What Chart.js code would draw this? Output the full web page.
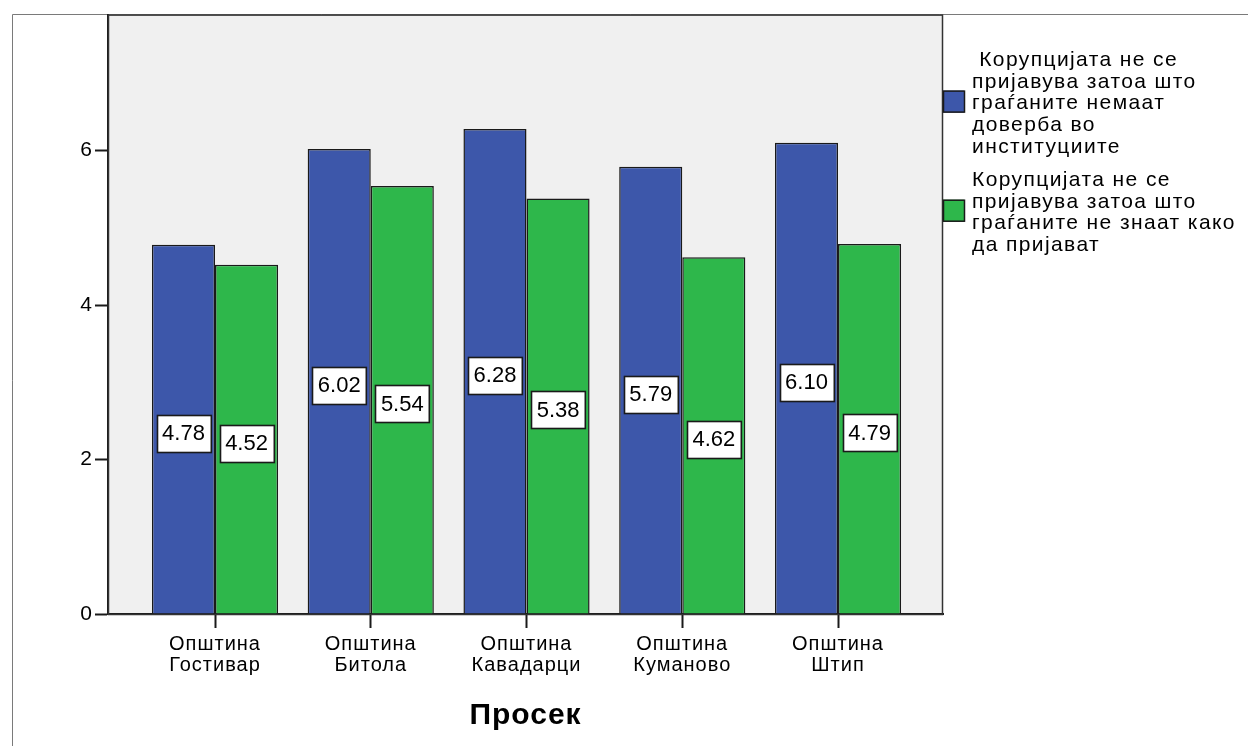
<!DOCTYPE html>
<html>
<head>
<meta charset="utf-8">
<script src="https://cdn.jsdelivr.net/npm/chart.js@4/dist/chart.umd.min.js"></script>
<style>
    html, body { margin: 0; padding: 0; background: #ffffff; }
    #wrap { width: 1248px; height: 746px; position: relative; }
</style>
</head>
<body>
<div id="wrap"><canvas id="chart"></canvas></div>
<script>
const municipalities = ['Општина Гостивар', 'Општина Битола', 'Општина Кавадарци', 'Општина Куманово', 'Општина Штип'];
const noTrust = [4.78, 6.02, 6.28, 5.79, 6.10];
const dontKnowHow = [4.52, 5.54, 5.38, 4.62, 4.79];
const legendLines = [
    [' Корупцијата не се', 'пријавува затоа што', 'граѓаните немаат', 'доверба во', 'институциите'],
    ['Корупцијата не се', 'пријавува затоа што', 'граѓаните не знаат како', 'да пријават']
];
const yTicks = [0, 2, 4, 6];
const axisTitle = 'Просек';

const blue = '#3d57aa';
const green = '#2eb74b';
const textFont = '"Liberation Sans", Arial, sans-serif';

// frame, grey plot background and spaced SPSS-like text
const framePlugin = {
    id: 'frame',
    beforeDraw(chart) {
        const ctx = chart.ctx;
        const a = chart.chartArea;
        ctx.fillStyle = '#f0f0f0';
        ctx.fillRect(a.left, a.top, a.right - a.left, a.bottom - a.top);
        ctx.strokeStyle = '#7a7a7a';
        ctx.lineWidth = 1;
        ctx.beginPath();
        ctx.moveTo(12.5, chart.height);
        ctx.lineTo(12.5, 14.5);
        ctx.lineTo(chart.width, 14.5);
        ctx.stroke();
        ctx.letterSpacing = '1px';
    },
    afterDraw(chart) {
        const ctx = chart.ctx;
        const a = chart.chartArea;
        ctx.letterSpacing = '0px';
        ctx.strokeStyle = '#333333';
        ctx.lineWidth = 1.5;
        ctx.strokeRect(a.left + 0.5, a.top + 0.5, a.right - a.left - 1, a.bottom - a.top);
    }
};

// white boxes with values in the middle of each bar
const valueBoxes = {
    id: 'valueBoxes',
    afterDatasetsDraw(chart) {
        const ctx = chart.ctx;
        ctx.save();
        ctx.letterSpacing = '0px';
        ctx.font = '22px ' + textFont;
        ctx.textAlign = 'center';
        ctx.textBaseline = 'middle';
        chart.data.datasets.forEach((ds, i) => {
            chart.getDatasetMeta(i).data.forEach((bar, j) => {
                const txt = ds.data[j].y.toFixed(2);
                const w = ctx.measureText(txt).width + 11;
                const h = 37;
                const cy = (bar.y + bar.base) / 2 + 4;
                const x0 = Math.round(bar.x - w / 2) + 0.5;
                const y0 = Math.round(cy - h / 2) + 0.5;
                ctx.fillStyle = '#ffffff';
                ctx.fillRect(x0, y0, w, h);
                ctx.strokeStyle = '#1a1a1a';
                ctx.lineWidth = 1.6;
                ctx.strokeRect(x0, y0, w, h);
                ctx.fillStyle = '#000000';
                ctx.fillText(txt, bar.x, cy + 1);
            });
        });
        ctx.restore();
    }
};

// legend on the right, multi-line labels
const sideLegend = {
    id: 'sideLegend',
    afterDraw(chart) {
        const ctx = chart.ctx;
        const a = chart.chartArea;
        const lh = 21.8;
        let y = 60;
        ctx.save();
        ctx.letterSpacing = '1.4px';
        ctx.font = '21px ' + textFont;
        ctx.textAlign = 'left';
        ctx.textBaseline = 'middle';
        chart.data.datasets.forEach((ds, i) => {
            const lines = legendLines[i];
            const boxY = y + (lines.length - 1) * lh / 2 - 2;
            ctx.fillStyle = ds.backgroundColor;
            ctx.fillRect(a.right, boxY - 11, 21, 22);
            ctx.strokeStyle = '#1a1a1a';
            ctx.lineWidth = 1.5;
            ctx.strokeRect(a.right + 0.5, boxY - 10.5, 21, 21);
            ctx.fillStyle = '#000000';
            lines.forEach((line, k) => {
                ctx.fillText(line, a.right + 29, y + k * lh);
            });
            y += lines.length * lh + 11;
        });
        ctx.restore();
    }
};

const ctx = document.getElementById('chart').getContext('2d');

new Chart(ctx, {
    type: 'bar',
    data: {
        datasets: [{
            label: legendLines[0].join(' ').trim(),
            data: noTrust.map((v, i) => ({ x: i, y: v })),
            backgroundColor: blue,
            borderColor: '#1a1a1a',
            borderWidth: 1.5
        }, {
            label: legendLines[1].join(' '),
            data: dontKnowHow.map((v, i) => ({ x: i, y: v })),
            backgroundColor: green,
            borderColor: '#1a1a1a',
            borderWidth: 1.5
        }]
    },
    options: {
        responsive: true,
        maintainAspectRatio: false,
        animation: false,
        devicePixelRatio: 1,
        categoryPercentage: 0.81,
        barPercentage: 1.0,
        layout: {
            padding: { top: 14, right: 305, left: 0, bottom: 0 }
        },
        scales: {
            x: {
                type: 'linear',
                min: -0.687,
                max: 4.674,
                offset: false,
                afterBuildTicks: function (scale) {
                    scale.ticks = municipalities.map((m, i) => ({ value: i }));
                },
                afterFit: function (scale) {
                    scale.height = 132;
                },
                grid: {
                    drawOnChartArea: false,
                    drawTicks: true,
                    tickLength: 14,
                    tickColor: '#1a1a1a',
                    tickWidth: 2,
                    offset: false
                },
                border: { color: '#1a1a1a', width: 2 },
                ticks: {
                    autoSkip: false,
                    maxRotation: 0,
                    padding: 6,
                    color: '#000000',
                    font: { family: textFont, size: 20, lineHeight: 1.05 },
                    callback: function (value, index) {
                        return municipalities[index].split(' ');
                    }
                },
                title: {
                    display: true,
                    text: axisTitle,
                    color: '#000000',
                    font: { family: textFont, size: 30, weight: 'bold', lineHeight: 1.2 },
                    padding: { top: 4, bottom: 12 }
                }
            },
            y: {
                min: 0,
                max: 7.76,
                afterBuildTicks: function (scale) {
                    scale.ticks = yTicks.map(v => ({ value: v }));
                },
                afterFit: function (scale) {
                    scale.width = 108;
                },
                grid: {
                    drawOnChartArea: false,
                    drawTicks: true,
                    tickLength: 13,
                    tickColor: '#1a1a1a',
                    tickWidth: 2
                },
                border: { color: '#1a1a1a', width: 2 },
                ticks: {
                    padding: 2,
                    color: '#000000',
                    font: { family: textFont, size: 21 }
                }
            }
        },
        plugins: {
            legend: { display: false },
            tooltip: { enabled: false }
        }
    },
    plugins: [framePlugin, valueBoxes, sideLegend]
});
</script>
</body>
</html>
